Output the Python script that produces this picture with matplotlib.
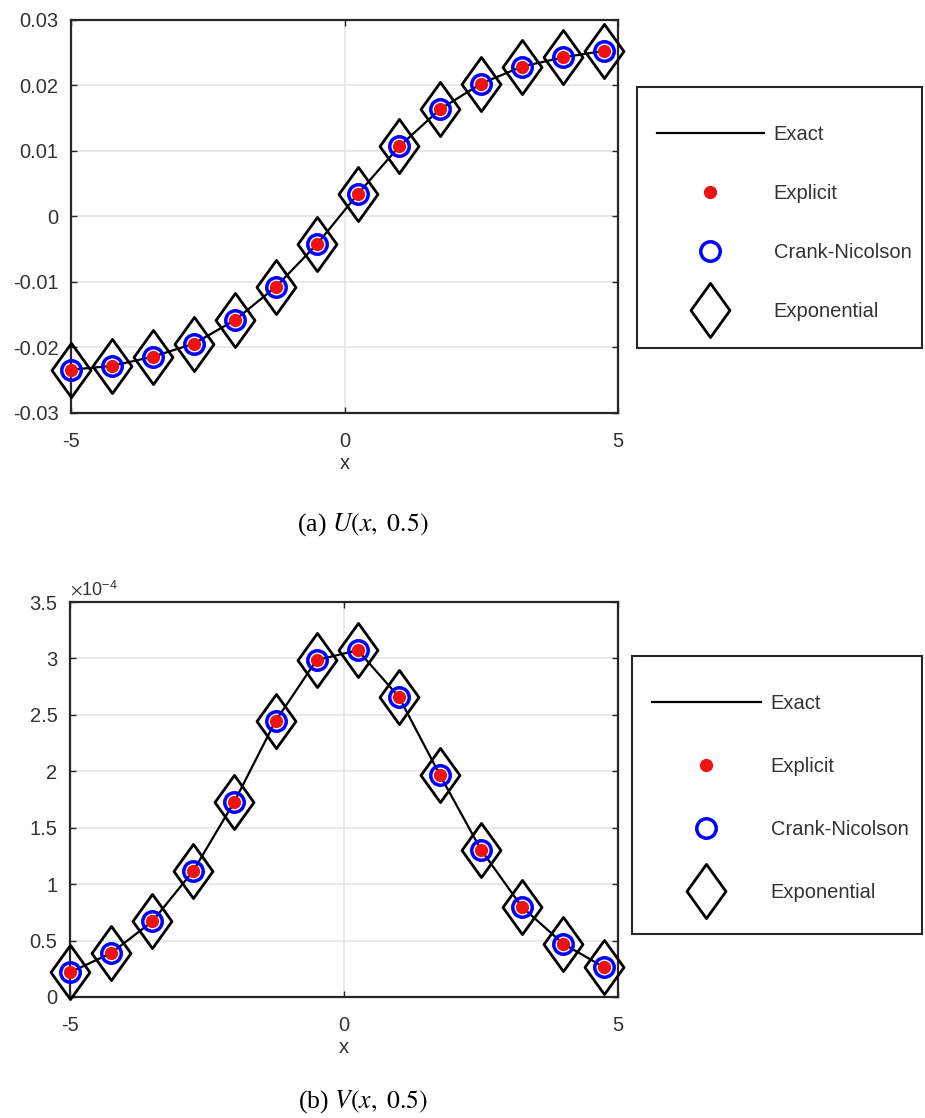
import numpy as np
import matplotlib
matplotlib.use("Agg")
import matplotlib.pyplot as plt
from matplotlib.path import Path
from matplotlib.patches import Rectangle
from matplotlib.ticker import FuncFormatter, FixedLocator

plt.rcParams['font.family'] = ['Liberation Sans', 'DejaVu Sans']
plt.rcParams['axes.unicode_minus'] = False
plt.rcParams['mathtext.fontset'] = 'stix'

# ---- data ----
x_nodes = [-5.0, -4.25, -3.5, -2.75, -2.0, -1.25, -0.5, 0.25, 1.0, 1.75, 2.5, 3.25, 4.0, 4.75]
u_vals = [-0.0234, -0.0228, -0.0214, -0.0194, -0.0158, -0.0107, -0.0042, 0.0035,
          0.0107, 0.0164, 0.0203, 0.0229, 0.0243, 0.0253]
v_vals = [0.218e-4, 0.389e-4, 0.669e-4, 1.118e-4, 1.731e-4, 2.445e-4, 2.985e-4, 3.073e-4,
          2.66e-4, 1.967e-4, 1.305e-4, 0.796e-4, 0.472e-4, 0.262e-4]
series_labels = ['Exact', 'Explicit', 'Crank-Nicolson', 'Exponential']
u_yticks = [-0.03, -0.02, -0.01, 0, 0.01, 0.02, 0.03]
v_yticks = [0, 0.5e-4, 1e-4, 1.5e-4, 2e-4, 2.5e-4, 3e-4, 3.5e-4]
x_ticks = [-5, 0, 5]
captions = [r'(a) $U(x,\ 0.5)$', r'(b) $V(x,\ 0.5)$']

W, H = 925, 1118
fig = plt.figure(figsize=(W / 100, H / 100), dpi=100)

diamond = Path([(0, 1), (0.72, 0), (0, -1), (-0.72, 0), (0, 1)],
               [Path.MOVETO, Path.LINETO, Path.LINETO, Path.LINETO, Path.CLOSEPOLY])

txt_col = '#333333'
FS = 14.5


def box(l, t, r, b):
    return [l / W, 1 - b / H, (r - l) / W, (b - t) / H]


def make_panel(rect, y, yticks, ylim, fmt, frame_px, leg_anchor_px, leg_spacing, leg_handlelen):
    ax = fig.add_axes(rect)
    ax.set_xlim(-5, 5)
    ax.set_ylim(*ylim)
    ax.grid(True, color='#e3e3e3', linewidth=1.1, zorder=0)
    ax.set_axisbelow(True)
    l1, = ax.plot(x_nodes, y, color='black', linewidth=1.6, label=series_labels[0], zorder=3)
    l2, = ax.plot(x_nodes, y, linestyle='none', marker='o', markersize=8.5,
                  markerfacecolor='#ee1111', markeredgecolor='#ee1111', label=series_labels[1], zorder=6)
    l3, = ax.plot(x_nodes, y, linestyle='none', marker='o', markersize=14,
                  markerfacecolor='none', markeredgecolor='#0000ff', markeredgewidth=2.5,
                  label=series_labels[2], zorder=5)
    l4, = ax.plot(x_nodes, y, linestyle='none', marker=diamond, markersize=39,
                  markerfacecolor='none', markeredgecolor='black', markeredgewidth=2.0,
                  label=series_labels[3], zorder=4)
    for l in (l2, l3, l4):
        l.set_clip_on(False)
    ax.xaxis.set_major_locator(FixedLocator(x_ticks))
    ax.yaxis.set_major_locator(FixedLocator(yticks))
    ax.xaxis.set_major_formatter(FuncFormatter(lambda v, p: '%g' % v))
    ax.yaxis.set_major_formatter(FuncFormatter(fmt))
    ax.tick_params(direction='in', length=4, width=1.0, colors='#262626',
                   top=True, right=True, labelsize=FS, labelcolor=txt_col)
    ax.tick_params(axis='x', pad=14)
    ax.tick_params(axis='y', pad=9)
    for s in ax.spines.values():
        s.set_linewidth(1.6)
        s.set_color('#262626')
    ax.set_xlabel('x', fontsize=FS, color=txt_col, labelpad=2)
    # legend frame
    fl, ft, fr, fb = frame_px
    fig.patches.append(Rectangle((fl / W, 1 - fb / H), (fr - fl) / W, (fb - ft) / H,
                                 transform=fig.transFigure, facecolor='white',
                                 edgecolor='#262626', linewidth=1.5, zorder=1))
    leg = fig.legend(handles=[l1, l2, l3, l4], loc='upper left',
                     bbox_to_anchor=(leg_anchor_px[0] / W, 1 - leg_anchor_px[1] / H),
                     borderaxespad=0, frameon=False, fontsize=FS, labelcolor=txt_col,
                     handlelength=leg_handlelen, handletextpad=0.5, borderpad=0,
                     labelspacing=leg_spacing, numpoints=1)
    leg.set_zorder(2)
    return ax


ax1 = make_panel(box(71, 20, 618, 413), u_vals, u_yticks, (-0.03, 0.03),
                 lambda v, p: '%g' % round(v, 4), (637, 87, 922, 348), (657, 125), 1.98, 5.3)
ax2 = make_panel(box(70, 602, 618, 997), v_vals, v_yticks, (0, 3.5e-4),
                 lambda v, p: '%g' % round(v / 1e-4, 3), (632, 656, 922, 934), (652, 694), 2.18, 5.4)
ax2.text(0.0, 1.005, r'$\times\mathregular{10}^{\mathregular{-4}}$', transform=ax2.transAxes,
         fontsize=13, color=txt_col, ha='left', va='bottom')

fig.text(363 / W, 1 - 525 / H, captions[0], family='Liberation Serif', fontsize=18.5,
         ha='center', va='center', color='black')
fig.text(363 / W, 1 - 1102 / H, captions[1], family='Liberation Serif', fontsize=18.5,
         ha='center', va='center', color='black')

fig.savefig('out.png', dpi=100, facecolor='white')
